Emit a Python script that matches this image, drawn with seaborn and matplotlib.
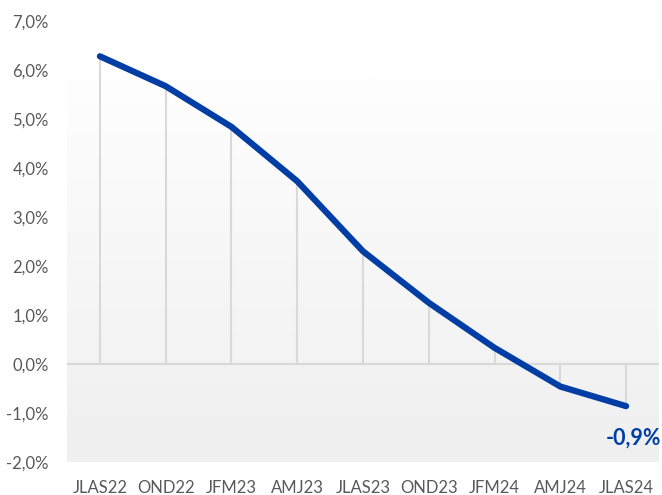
import numpy as np
import pandas as pd
import matplotlib
matplotlib.use("Agg")
import matplotlib.pyplot as plt
import seaborn as sns
from matplotlib.colors import LinearSegmentedColormap
from matplotlib.ticker import FuncFormatter

categories = ["JLAS22", "OND22", "JFM23", "AMJ23", "JLAS23", "OND23", "JFM24", "AMJ24", "JLAS24"]
values = [6.28, 5.67, 4.84, 3.73, 2.30, 1.25, 0.33, -0.46, -0.86]
y_ticks = [-2, -1, 0, 1, 2, 3, 4, 5, 6, 7]
last_label = "-0,9%"

sns.set_style("white")
plt.rcParams['font.family'] = ['Lato', 'DejaVu Sans']

df = pd.DataFrame({"periodo": categories, "valor": values})

fig = plt.figure(figsize=(6.62, 4.95), dpi=100)
ax = fig.add_axes([67/662, 1-462/495, (659-67)/662, (462-21)/495])

# gradient background
grad = np.linspace(0, 1, 256).reshape(-1, 1)
cmap = LinearSegmentedColormap.from_list("bg", ["#fefefe", "#efefef"])
ax.imshow(grad, cmap=cmap, aspect="auto", extent=[-0.5, len(categories)-0.5, -2, 5.8],
          origin="upper", zorder=0)

# zero line
ax.axhline(0, color="#d9d9d9", lw=1.5, zorder=1)
# drop lines
xs = np.arange(len(categories))
ax.vlines(xs, 0, df["valor"], color="#d9d9d9", lw=1.5, zorder=1)

sns.lineplot(data=df, x="periodo", y="valor", sort=False, color="#003DA5",
             lw=4.5, ax=ax, zorder=3, solid_capstyle="round", solid_joinstyle="round")

ax.set_xlim(-0.5, len(categories)-0.5)
ax.set_ylim(-2, 7)
ax.set_yticks(y_ticks)
ax.yaxis.set_major_formatter(FuncFormatter(lambda v, p: f"{v:.1f}%".replace(".", ",")))
ax.set_xlabel("")
ax.set_ylabel("")
for s in ax.spines.values():
    s.set_visible(False)
ax.tick_params(axis="both", length=0, labelsize=12, labelcolor="#595959")
ax.tick_params(axis="y", pad=13)
ax.tick_params(axis="x", pad=13)
ax.set_facecolor("white")

ax.annotate(last_label, xy=(xs[-1], values[-1]), xytext=(5, -23),
            textcoords="offset points", ha="center", va="center",
            fontsize=15.5, fontweight="bold", color="#003DA5", annotation_clip=False)

fig.savefig("out.png", dpi=100)
